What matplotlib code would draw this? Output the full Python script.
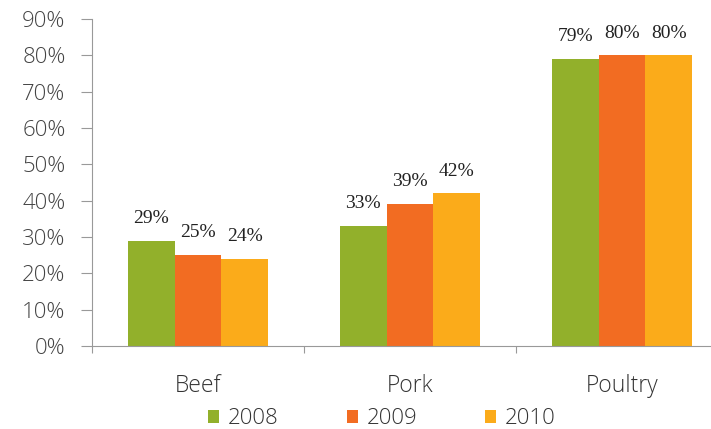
import numpy as np
import matplotlib
matplotlib.use('Agg')
import matplotlib.pyplot as plt

# meat share chart
categories = ['Beef', 'Pork', 'Poultry']
years = ['2008', '2009', '2010']
v2008 = [29, 33, 79]
v2009 = [25, 39, 80]
v2010 = [24, 42, 80]
colors = ['#92B02B', '#F26C22', '#FBAB1A']

sans = {'family': 'Open Sans', 'weight': 'light'}

fig = plt.figure(figsize=(7.11, 4.29), dpi=100)
# axes runs a bit past the right edge like in the original
ax = fig.add_axes([92/711, 1-346/429, 636/711, 327/429])

x = np.arange(len(categories)) + 0.5
w = 0.22
series = [v2008, v2009, v2010]
for i, vals in enumerate(series):
    pos = x + (i - 1) * w
    ax.bar(pos, vals, width=w, color=colors[i], label=years[i], zorder=2)
    for p, v in zip(pos, vals):
        ax.text(p, v + 3.8, f'{v}%', ha='center', va='bottom',
                fontsize=14, family='Liberation Serif', color='#222222')

ax.set_xlim(0, 3)
ax.set_ylim(0, 90)
ax.set_yticks(np.arange(0, 91, 10))
ax.set_yticklabels([f'{t}%' for t in range(0, 91, 10)],
                   fontsize=16, color='#444444', **sans)
ax.set_xticks([0, 1, 2, 3])
ax.set_xticklabels([])
ax.set_xticks(x, minor=True)
ax.set_xticklabels(categories, minor=True, fontsize=16.5, color='#333333',
                   **sans)
ax.tick_params(axis='x', which='minor', length=0, pad=20)
ax.tick_params(axis='x', which='major', length=5, color='#999999')
ax.tick_params(axis='y', length=8, color='#999999', pad=11)

for s in ['top', 'right']:
    ax.spines[s].set_visible(False)
for s in ['left', 'bottom']:
    ax.spines[s].set_color('#999999')
    ax.spines[s].set_linewidth(0.8)

leg = fig.legend(loc='center', bbox_to_anchor=(382/711, 1-419/429), ncol=3,
                 frameon=False, handlelength=0.5, handleheight=0.5,
                 handletextpad=0.4, columnspacing=3.05,
                 prop={'family': 'Open Sans', 'weight': 'light', 'size': 16})
for t in leg.get_texts():
    t.set_color('#333333')

fig.savefig('out.png', dpi=100)
